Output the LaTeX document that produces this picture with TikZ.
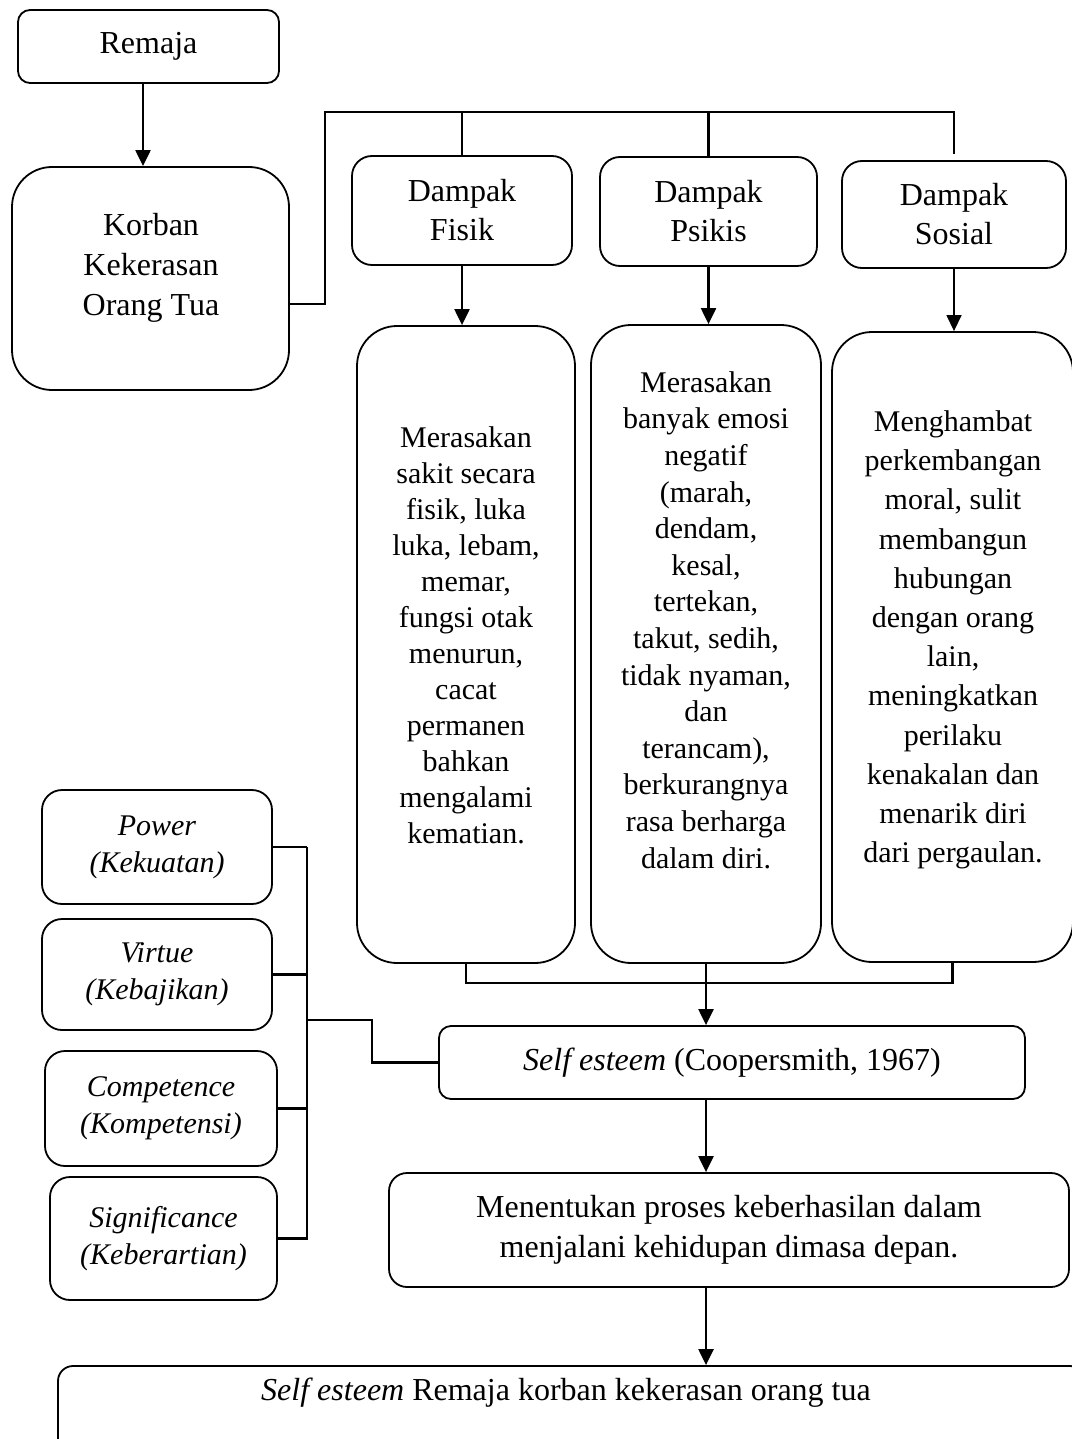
\documentclass[tikz,border=0pt]{standalone}
\usepackage{fontspec}
\setmainfont{Liberation Serif}
\usetikzlibrary{arrows.meta}
\begin{document}
\begin{tikzpicture}[x=0.5pt,y=-0.5pt,
  bx/.style={draw, line width=0.9pt, inner sep=0pt, align=center},
  txt/.style={inner sep=0pt, align=center},
  fA/.style={font=\fontsize{16}{19.5}\selectfont},
  fF/.style={font=\fontsize{15}{18}\selectfont},
  fP/.style={font=\fontsize{15}{18.3}\selectfont},
  fS/.style={font=\fontsize{15}{19.6}\selectfont},
  fK/.style={font=\fontsize{16}{20}\selectfont},
  fI/.style={font=\fontsize{15}{18.5}\selectfont\itshape},
  ln/.style={line width=1.1pt},
  arr/.style={ln, -{Triangle[width=7.5pt,length=8pt]}},
  arrthin/.style={line width=0.7pt, -{Triangle[width=7.5pt,length=8pt]}}
]
\useasboundingbox (0,0) rectangle (1071,1439);

% top left
\node[bx, fA, rounded corners=6pt, minimum width=130.5pt, minimum height=36.5pt] (remaja) at (148.5,46.5) {Remaja};
\node[bx, rounded corners=20pt, minimum width=138.5pt, minimum height=111.5pt] (korban) at (150.5,278.5) {};
\node[txt, fK] (korbanT) at (151,268) {Korban\\Kekerasan\\Orang Tua};

% Dampak boxes
\node[bx, fA, rounded corners=10pt, minimum width=110pt, minimum height=54.5pt] (fisik) at (462,210.5) {Dampak\\Fisik};
\node[bx, fA, rounded corners=10pt, minimum width=108.5pt, minimum height=54.5pt] (psikis) at (708.5,211.5) {Dampak\\Psikis};
\node[bx, fA, rounded corners=10pt, minimum width=112pt, minimum height=53.5pt] (sosial) at (954,214.5) {Dampak\\Sosial};

% tall boxes
\node[bx, rounded corners=20pt, minimum width=109pt, minimum height=318.5pt] (ftall) at (466,644.5) {};
\node[txt, fF] (ftallT) at (466,635) {Merasakan\\sakit secara\\fisik, luka\\luka, lebam,\\memar,\\fungsi otak\\menurun,\\cacat\\permanen\\bahkan\\mengalami\\kematian.};
\node[bx, rounded corners=20pt, minimum width=115pt, minimum height=319pt] (ptall) at (706,644) {};
\node[txt, fP] (ptallT) at (706,620) {Merasakan\\banyak emosi\\negatif\\(marah,\\dendam,\\kesal,\\tertekan,\\takut, sedih,\\tidak nyaman,\\dan\\terancam),\\berkurangnya\\rasa berharga\\dalam diri.};
\node[bx, rounded corners=20pt, minimum width=120.5pt, minimum height=315pt] (stall) at (952.5,647) {};
\node[txt, fS] (stallT) at (953,640) {Menghambat\\perkembangan\\moral, sulit\\membangun\\hubungan\\dengan orang\\lain,\\meningkatkan\\perilaku\\kenakalan dan\\menarik diri\\dari pergaulan.};

% self esteem etc.
\node[bx, fA, rounded corners=6pt, minimum width=293pt, minimum height=36.5pt] (selfe) at (732,1062.5) {\textit{Self esteem} (Coopersmith, 1967)};
\node[bx, fK, rounded corners=9pt, minimum width=340pt, minimum height=57pt] (mene) at (729,1230) {Menentukan proses keberhasilan dalam\\menjalani kehidupan dimasa depan.};
\node[bx, rounded corners=7.5pt, minimum width=513.5pt, minimum height=47pt] (final) at (571.5,1413) {};
\node[txt, fA] (finalT) at (566,1393) {\textit{Self esteem} Remaja korban kekerasan orang tua};

% left aspects
\node[bx, fI, rounded corners=10pt, minimum width=115pt, minimum height=57pt] (power) at (157,847) {Power\\(Kekuatan)};
\node[bx, fI, rounded corners=10pt, minimum width=115pt, minimum height=55.5pt] (virtue) at (157,974.5) {Virtue\\(Kebajikan)};
\node[bx, fI, rounded corners=10pt, minimum width=116pt, minimum height=57.5pt] (comp) at (161,1108.5) {Competence\\(Kompetensi)};
\node[bx, fI, rounded corners=10pt, minimum width=113.5pt, minimum height=61.5pt] (sig) at (163.5,1238.5) {Significance\\(Keberartian)};

% coordinates
\coordinate (c1) at (325,112);
\coordinate (c2) at (955,112);
\coordinate (sp) at (307,0);
\coordinate (j) at (307,1020);
\coordinate (k) at (372,1020);

% connectors
\draw[arr] ([xshift=-2.75pt]remaja.south) -- ([xshift=-2.75pt]remaja.south |- korban.north);
\draw[ln] ([yshift=-12.75pt]korban.east) -| (c1) -- (c2);
\draw[ln] (fisik.north |- c1) -- (fisik.north);
\draw[ln] (psikis.north |- c1) -- (psikis.north);
\draw[ln] (sosial.north |- c1) -- ([yshift=3pt]sosial.north);
\draw[arr] (fisik.south) -- (fisik.south |- ftall.north);
\draw[arr] (psikis.south) -- (psikis.south |- ptall.north);
\draw[arrthin] (sosial.south) -- (sosial.south |- stall.north);
\draw[ln] (ftall.south) |- ([yshift=-10pt]stall.south) -- (stall.south);
\draw[arr] (ptall.south) -- (ptall.south |- selfe.north);
\draw[arr] (ptall.south |- selfe.south) -- (ptall.south |- mene.north);
\draw[arr] (ptall.south |- mene.south) -- (ptall.south |- final.north);

\draw[ln] (power.east) -- (power.east -| sp);
\draw[ln] (virtue.east) -- (virtue.east -| sp);
\draw[ln] (comp.east) -- (comp.east -| sp);
\draw[ln] (power.east -| sp) -- (sig.east -| sp) -- (sig.east);
\draw[ln] (j) -- (k) |- (selfe.west);
\end{tikzpicture}
\end{document}
